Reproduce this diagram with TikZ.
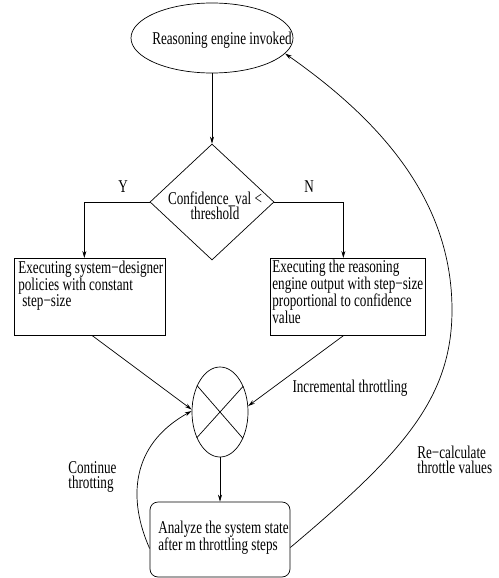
\documentclass[tikz,border=0pt]{standalone}
\usepackage{fontspec}
\setmainfont{Liberation Serif}[FakeStretch=0.73]
\usetikzlibrary{shapes.geometric,arrows.meta}
\begin{document}
\begin{tikzpicture}[x=1pt,y=-1pt,
  line width=0.7pt,
  every node/.style={font=\fontsize{18}{16.5}\selectfont},
  arr/.style={-{Stealth[length=7pt,width=4pt]}},
  boxshape/.style={draw,rectangle,inner sep=0pt,anchor=north west},
  txt/.style={align=left,inner sep=0pt,anchor=north west},
  tight/.style={font=\fontsize{18}{15}\selectfont}
]
\useasboundingbox (0,0) rectangle (498,578);

% start ellipse
\node[draw,ellipse,minimum width=162pt,minimum height=70pt,inner sep=0pt] (start) at (212,38) {};
\node[inner sep=0pt] (starttxt) at (222,40) {Reasoning engine invoked};

% decision diamond
\node[draw,diamond,minimum width=124pt,minimum height=116pt,inner sep=0pt] (dec) at (212,202) {};
\node[align=center,inner sep=0pt,tight] (dectxt) at (215,206) {Confidence\_val <\\threshold};

\node[inner sep=0pt] (ylab) at (123,187) {Y};
\node[inner sep=0pt] (nlab) at (309,187) {N};

% left box
\node[boxshape,minimum width=151pt,minimum height=77pt] (lbox) at (14,258) {};
\node[txt] (ltxt) at (18,261) {Executing system−designer\\policies with constant\\\hspace*{4pt}step−size};

% right box
\node[boxshape,minimum width=155pt,minimum height=77pt] (rbox) at (270,258) {};
\node[txt] (rtxt) at (272,260) {Executing the reasoning\\engine output with step−size\\proportional to confidence\\value};

% combining circle
\node[draw,ellipse,minimum width=56pt,minimum height=90pt,inner sep=0pt] (circ) at (220,412) {};
\draw (circ.48.5) -- (circ.228.5);
\draw (circ.131.5) -- (circ.311.5);

% analyze box
\node[draw,rounded corners=8pt,minimum width=140pt,minimum height=75pt,inner sep=0pt] (abox) at (220,539.5) {};
\node[txt,font=\fontsize{18}{17}\selectfont] (atxt) at (158,521) {Analyze the system state\\after m throttling steps};

% labels
\node[inner sep=0pt] (inclab) at (350,388) {Incremental throttling};
\node[txt,tight] (contlab) at (68,461) {Continue\\throtting};
\node[txt,tight] (reclab) at (417,446) {Re−calculate\\throttle values};

% connectors
\draw[arr] (start.south) -- (dec.north);
\draw[arr] (dec.west) -| ([xshift=-5.5pt]lbox.north);
\draw[arr] (dec.east) -| ([xshift=-4.5pt]rbox.north);
\draw[arr] ([xshift=2.5pt]lbox.south) -- (circ.175);
\draw[arr] ([xshift=-4.5pt]rbox.south) -- (circ.12);
\draw[arr] (circ.south) -- (abox.north);
\draw[arr] ([yshift=-9pt]abox.west) .. controls (128,500) and (130,445) .. (circ.178);
\coordinate (rc) at (452,310);
\draw[arr] ([yshift=-8pt]abox.east) .. controls (400,455) and (452,400) .. (rc)
  .. controls (452,200) and (380,120) .. (start.-12);
\end{tikzpicture}
\end{document}
